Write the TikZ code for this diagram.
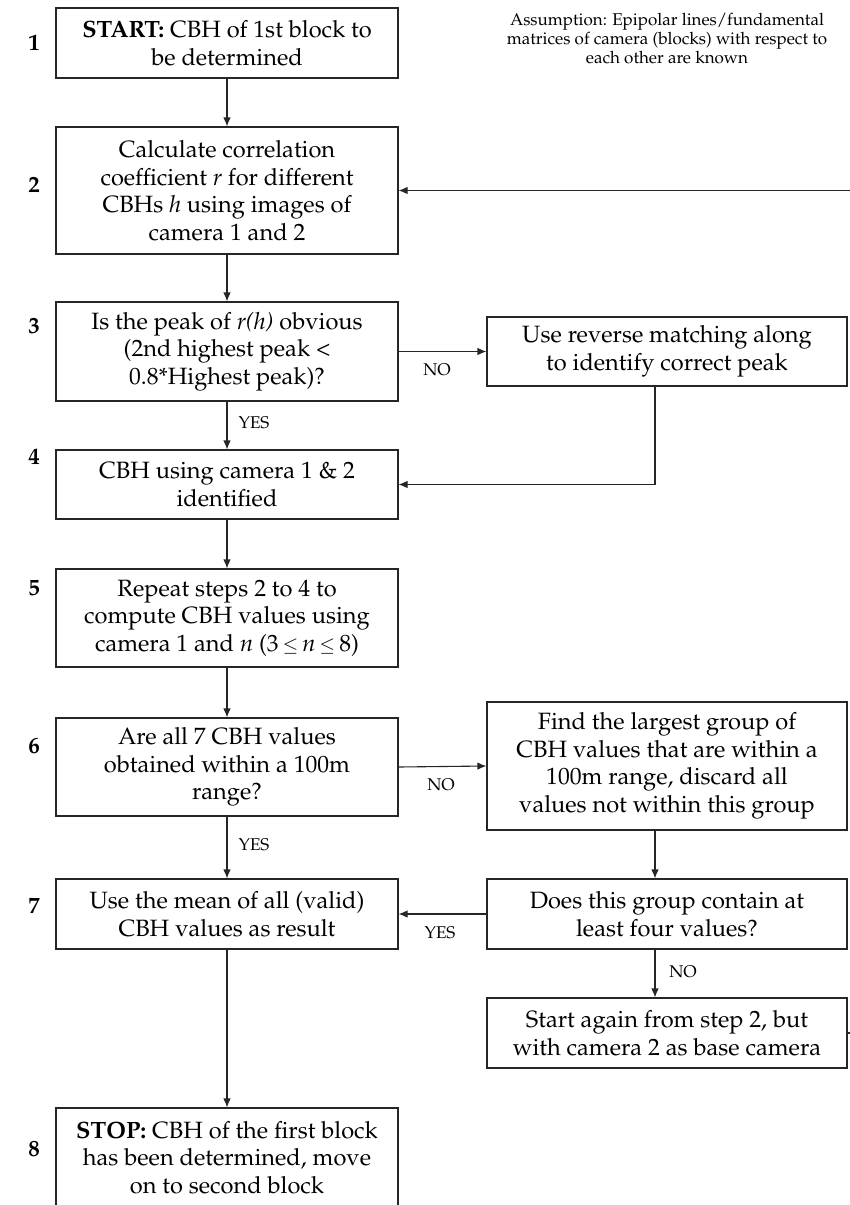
\documentclass[tikz,border=0pt]{standalone}
\usepackage[T1]{fontenc}
\usepackage{mathpazo}
\usetikzlibrary{arrows.meta}
\newcommand{\smallle}{{\fontsize{19}{20}\selectfont$\leq$}}
\begin{document}
\begin{tikzpicture}[x=1pt,y=-1pt,
  flowbox/.style={draw=black!85, line width=1.1pt, rectangle, inner sep=0pt,
    align=center, font=\fontsize{23.6}{27.5}\selectfont},
  lbl/.style={inner sep=0pt, font=\fontsize{17}{19}\selectfont},
  stepnum/.style={inner sep=0pt, font=\fontsize{23}{27.5}\selectfont\bfseries},
  conn/.style={draw=black!85, line width=1.1pt, -{Latex[length=9pt,width=7.5pt]}},
  plain/.style={draw=black!85, line width=1.1pt}]
\useasboundingbox (0,0) rectangle (849,1205);

% left column
\node[flowbox, minimum width=342pt, minimum height=70pt] (b1) at (227,43)
  {\textbf{START:} CBH of 1st block to\\be determined};
\node[flowbox, minimum width=342pt, minimum height=127pt] (b2) at (227,190.5)
  {Calculate correlation\\coefficient \textit{r} for different\\CBHs \textit{h} using images of\\camera 1 and 2};
\node[flowbox, minimum width=342pt, minimum height=99pt] (b3) at (227,351.5)
  {Is the peak of \textit{r(h)} obvious\\(2nd highest peak <\\0.8*Highest peak)?};
\node[flowbox, minimum width=342pt, minimum height=69pt] (b4) at (227,484.5)
  {CBH using camera 1 \& 2\\identified};
\node[flowbox, minimum width=342pt, minimum height=98pt] (b5) at (227,618)
  {Repeat steps 2 to 4 to\\compute CBH values using\\camera 1 and \textit{n} (3\,\smallle\,\textit{n}\,\smallle\,8)};
\node[flowbox, minimum width=342pt, minimum height=98pt] (b6) at (227,767)
  {Are all 7 CBH values\\obtained within a 100m\\range?};
\node[flowbox, minimum width=342pt, minimum height=70pt] (b7) at (227,914)
  {Use the mean of all (valid)\\CBH values as result};
\node[flowbox, minimum width=342pt, minimum height=99pt] (b8) at (227,1157.5)
  {\textbf{STOP:} CBH of the first block\\has been determined, move\\on to second block};

% right column
\node[flowbox, minimum width=360pt, minimum height=69pt] (bA) at (667,351.5)
  {Use reverse matching along\\to identify correct peak};
\node[flowbox, minimum width=360pt, minimum height=128pt] (bB) at (667,766)
  {Find the largest group of\\CBH values that are within a\\100m range, discard all\\values not within this group};
\node[flowbox, minimum width=360pt, minimum height=70pt] (bC) at (667,914)
  {Does this group contain at\\least four values?};
\node[flowbox, minimum width=360pt, minimum height=70pt] (bD) at (667,1033)
  {Start again from step 2, but\\with camera 2 as base camera};

% assumption note
\node[lbl, align=center] (note) at (667,39)
  {Assumption: Epipolar lines/fundamental\\matrices of camera (blocks) with respect to\\each other are known};

% step numbers
\node[stepnum] (n1) at (34,43) {1};
\node[stepnum] (n2) at (34,185) {2};
\node[stepnum] (n3) at (34,326) {3};
\node[stepnum] (n4) at (34,457) {4};
\node[stepnum] (n5) at (34,588) {5};
\node[stepnum] (n6) at (34,746) {6};
\node[stepnum] (n7) at (34,906) {7};
\node[stepnum] (n8) at (34,1149) {8};

% helper coordinates: right-column connector line and return path
\coordinate (rx) at (655,0);
\coordinate (edge) at (851,0);

% connectors
\draw[conn] (b1.south) -- (b2.north);
\draw[conn] (b2.south) -- (b3.north);
\draw[conn] (b3.south) -- (b4.north);
\draw[conn] (b4.south) -- (b5.north);
\draw[conn] (b5.south) -- (b6.north);
\draw[conn] (b6.south) -- (b7.north);
\draw[conn] (b7.south) -- (b8.north);

\draw[conn] (b3.east) -- (bA.west);
\draw[conn] (bA.south -| rx) |- (b4.east);
\draw[conn] (b6.east) -- (bB.west);
\draw[conn] (bB.south -| rx) -- (bC.north -| rx);
\draw[conn] (bC.west) -- (b7.east);
\draw[conn] (bC.south -| rx) -- (bD.north -| rx);
\draw[conn] (bD.east) -- (bD.east -| edge) -- (b2.east -| edge) -- (b2.east);

% connector labels
\node[lbl] (yes1) at (254,423) {YES};
\node[lbl] (no1) at (437,370) {NO};
\node[lbl] (no2) at (441,785) {NO};
\node[lbl] (yes2) at (254,845) {YES};
\node[lbl] (yes3) at (440,933) {YES};
\node[lbl] (no3) at (683,972) {NO};
\end{tikzpicture}
\end{document}
